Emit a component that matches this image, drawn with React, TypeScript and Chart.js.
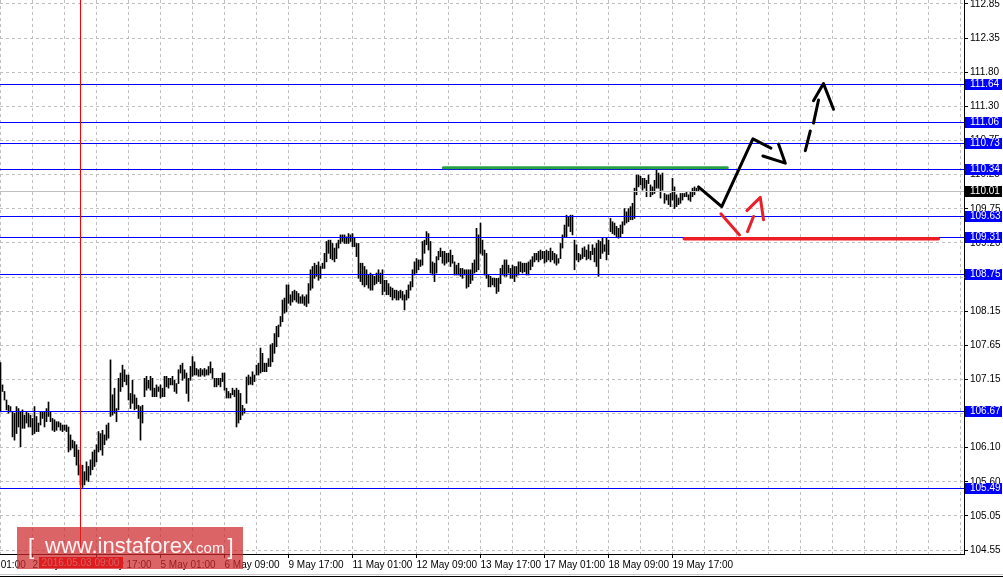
import React, { useEffect, useRef } from 'react';
import { Chart, registerables } from 'chart.js';

Chart.register(...registerables);

// ---------- DATA ----------
const barHighs: number[] = [
  107.40,107.06,106.96,106.83,106.75,106.73,106.65,106.63,106.73,106.70,
  106.65,106.68,106.60,106.65,106.63,106.60,106.55,106.73,106.58,106.48,
  106.65,106.65,106.65,106.70,106.80,106.65,106.55,106.53,106.50,106.50,
  106.48,106.45,106.45,106.45,106.42,106.30,106.22,106.20,106.15,106.07,
  105.84,105.84,105.74,105.89,105.82,105.92,106.04,106.07,106.15,106.35,
  106.32,106.37,106.30,106.45,106.48,107.44,106.91,107.01,106.70,107.16,
  107.24,107.36,107.29,107.21,107.21,106.93,107.13,106.91,106.86,106.75,
  106.73,106.75,107.16,107.19,107.13,107.19,107.16,107.01,107.06,107.03,
  107.06,107.01,107.19,107.19,107.16,107.16,107.19,107.13,107.08,107.29,
  107.36,107.39,107.29,107.24,107.16,107.34,107.49,107.41,107.31,107.29,
  107.31,107.29,107.31,107.29,107.34,107.41,107.31,107.16,107.16,107.16,
  107.16,107.24,107.24,107.01,106.96,106.93,107.01,106.98,107.01,106.98,
  106.93,106.75,106.70,107.18,107.21,107.18,107.26,107.21,107.36,107.39,
  107.62,107.54,107.39,107.39,107.46,107.67,107.69,107.84,107.95,107.97,
  108.10,108.35,108.38,108.58,108.58,108.43,108.48,108.50,108.48,108.45,
  108.40,108.43,108.40,108.43,108.60,108.81,108.86,108.91,108.88,108.93,
  108.86,108.91,109.06,109.24,109.26,109.26,109.21,109.14,109.21,109.26,
  109.34,109.34,109.34,109.31,109.36,109.34,109.36,109.29,109.21,109.21,
  108.91,108.91,108.86,108.81,108.73,108.76,108.73,108.71,108.76,108.81,
  108.76,108.81,108.65,108.65,108.60,108.55,108.53,108.50,108.50,108.48,
  108.50,108.48,108.43,108.50,108.58,108.63,108.81,108.93,108.98,108.96,
  108.96,109.24,109.26,109.39,109.36,109.24,108.93,108.91,109.01,109.09,
  109.14,109.09,109.09,109.06,109.06,109.11,109.03,108.93,108.88,108.91,
  108.83,108.83,108.81,108.81,108.81,108.81,108.91,108.96,109.44,109.34,
  109.52,109.26,109.11,109.06,108.73,108.71,108.68,108.68,108.68,108.68,
  108.83,108.88,108.96,108.96,108.88,108.83,108.88,108.86,108.86,108.93,
  108.93,108.91,108.91,108.91,108.93,108.96,109.01,109.06,109.06,109.09,
  109.11,109.09,109.09,109.11,109.09,109.14,109.09,109.06,109.04,108.98,
  109.21,109.34,109.49,109.64,109.62,109.64,109.64,109.26,109.19,109.06,
  109.04,109.14,109.16,109.11,109.19,109.09,109.19,109.14,109.21,109.26,
  109.24,109.29,109.19,109.29,109.26,109.59,109.54,109.52,109.47,109.44,
  109.49,109.54,109.74,109.69,109.74,109.77,109.82,110.05,110.25,110.25,
  110.23,110.20,110.20,110.17,110.25,110.10,110.07,110.17,110.33,110.28,
  110.25,110.28,109.97,109.95,109.95,109.97,110.20,110.07,109.95,109.90,
  109.97,109.97,109.97,110.00,109.95,110.00,110.05,110.07,110.05,110.05,
];

const barLows: number[] = [
  106.65,106.96,106.83,106.68,106.63,106.65,106.27,106.22,106.32,106.42,
  106.12,106.40,106.40,106.48,106.42,106.42,106.30,106.32,106.35,106.35,
  106.45,106.55,106.42,106.50,106.58,106.50,106.37,106.35,106.37,106.42,
  106.37,106.35,106.37,106.35,106.04,106.07,106.10,105.97,105.84,105.69,
  105.54,105.50,105.54,105.61,105.59,105.69,105.77,105.82,105.89,106.04,
  106.07,105.99,106.15,106.22,106.25,106.58,106.60,106.63,106.50,106.68,
  106.96,107.03,107.11,107.06,106.83,106.70,106.78,106.68,106.70,106.55,
  106.22,106.48,106.88,106.98,107.01,106.98,106.88,106.88,106.88,106.96,
  106.86,106.88,106.88,107.03,107.01,107.06,107.06,106.96,106.93,107.08,
  107.24,107.13,107.16,106.93,106.81,107.13,107.19,107.21,107.21,107.19,
  107.19,107.21,107.19,107.21,107.21,107.24,107.16,107.03,107.03,107.06,
  107.03,107.11,106.98,106.86,106.86,106.86,106.91,106.88,106.42,106.48,
  106.53,106.60,106.63,106.78,107.06,107.07,107.06,107.11,107.21,107.21,
  107.24,107.26,107.26,107.26,107.34,107.34,107.41,107.54,107.64,107.79,
  107.95,108.02,108.15,108.17,108.30,108.27,108.32,108.35,108.32,108.30,
  108.30,108.30,108.27,108.25,108.30,108.50,108.53,108.68,108.71,108.65,
  108.68,108.83,108.83,108.93,109.06,108.98,108.96,108.93,108.98,109.14,
  109.21,109.24,109.21,109.21,109.21,109.24,109.16,109.16,109.01,108.68,
  108.63,108.58,108.55,108.58,108.53,108.50,108.50,108.58,108.60,108.63,
  108.60,108.43,108.48,108.43,108.43,108.40,108.35,108.38,108.35,108.35,
  108.38,108.35,108.20,108.35,108.38,108.50,108.55,108.73,108.76,108.81,
  108.86,108.88,109.06,109.19,109.11,108.76,108.73,108.63,108.76,108.96,
  109.01,108.91,108.88,108.91,108.93,108.86,108.91,108.73,108.73,108.73,
  108.71,108.68,108.73,108.53,108.55,108.60,108.65,108.76,108.78,108.81,
  109.06,109.03,108.73,108.68,108.55,108.55,108.58,108.55,108.45,108.48,
  108.60,108.73,108.71,108.71,108.76,108.68,108.68,108.63,108.71,108.73,
  108.78,108.76,108.78,108.73,108.73,108.81,108.86,108.93,108.96,108.93,
  108.96,108.98,108.91,108.93,108.96,108.93,108.96,108.91,108.88,108.91,
  108.98,109.14,109.31,109.31,109.47,109.39,109.34,108.81,108.96,108.93,
  108.96,108.98,109.01,108.96,108.98,108.96,109.04,108.93,108.86,108.71,
  108.98,109.06,109.09,108.96,109.04,109.39,109.36,109.34,109.31,109.29,
  109.31,109.36,109.49,109.52,109.54,109.57,109.57,109.59,109.95,110.07,
  110.10,110.02,110.05,109.92,110.12,109.92,109.95,109.97,110.05,110.05,
  109.90,110.02,109.82,109.87,109.80,109.77,109.87,109.74,109.77,109.80,
  109.82,109.87,109.92,109.92,109.87,109.85,109.92,109.95,110.00,110.00,
];

// price axis tick labels (evenly spaced grid from top to bottom)
const yTickLabels: string[] = [
  '112.85','112.35','111.80','111.30','110.75','110.25','109.75','109.20','108.70',
  '108.15','107.65','107.15','106.60','106.10','105.60','105.05','104.55',
];
const yTop = 112.85;
const yBottom = 104.55;

// time axis labels (bar index -> label)
const xLabelBars: number[] = [-16, 16, 48, 80, 112, 144, 176, 208, 240, 272, 304, 336];
const xLabels: string[] = [
  '29 Apr 01:00','2 May 09:00','3 May 17:00','5 May 01:00','6 May 09:00','9 May 17:00',
  '11 May 01:00','12 May 09:00','13 May 17:00','17 May 01:00','18 May 09:00','19 May 17:00',
];
const xGridStep = 16;
const totalSlots = 482;

// horizontal levels
const levelValues: number[] = [111.64, 111.06, 110.73, 110.34, 109.63, 109.31, 108.75, 106.67, 105.49];
const levelLabels: string[] = ['111.64','111.06','110.73','110.34','109.63','109.31','108.75','106.67','105.49'];
const bidValue = 110.01;
const bidLabel = '110.01';

// vertical marker
const markerBar = 40;
const markerLabel = '2016.05.03 09:00';

// drawn objects
const greenLine = [{ x: 221.4, y: 110.36 }, { x: 363.4, y: 110.36 }];
const redLine = [{ x: 341.9, y: 109.28 }, { x: 468.9, y: 109.28 }];
const blackPath = [{ x: 349.0, y: 110.07 }, { x: 360.6, y: 109.77 }, { x: 376.2, y: 110.80 }, { x: 385.2, y: 110.66 }];
const blackHead = [{ x: 381.2, y: 110.54 }, { x: 392.4, y: 110.43 }, { x: 389.0, y: 110.72 }];
const dashSeg1 = [{ x: 402.4, y: 110.62 }, { x: 404.9, y: 110.92 }];
const dashSeg2 = [{ x: 406.5, y: 111.04 }, { x: 409.0, y: 111.39 }];
const dashHead = [{ x: 406.5, y: 111.38 }, { x: 411.5, y: 111.64 }, { x: 416.5, y: 111.25 }];
const redSeg1 = [{ x: 360.2, y: 109.66 }, { x: 369.5, y: 109.34 }];
const redSeg2 = [{ x: 373.5, y: 109.39 }, { x: 376.5, y: 109.62 }];
const redHead = [{ x: 373.2, y: 109.71 }, { x: 379.9, y: 109.91 }, { x: 381.5, y: 109.57 }];

// ---------- LAYOUT ----------
const W = 1003;
const H = 578;
const AXIS_W = 39;
const AXIS_H = 24;
const PLOT_H = H - AXIS_H;
const FONT = 'Liberation Sans';
const FS = 10;

// y range chosen so the 17 grid rows sit at 4px..550px of a 554px plot
const pxPerUnit = (550 - 4) / (yTop - yBottom);
const yMax = yTop + 4 / pxPerUnit;
const yMin = yBottom - (PLOT_H - 550) / pxPerUnit;
const yTickValues = yTickLabels.map((_, i) => yTop - (i * (yTop - yBottom)) / (yTickLabels.length - 1));

const xGridValues: number[] = [];
for (let v = 0; v <= totalSlots - 2; v += xGridStep) xGridValues.push(v);
const xTickValues = Array.from(new Set([...xLabelBars, ...xGridValues])).sort((a, b) => a - b);

const BAR_COLOR = '#000000';
const LEVEL_COLOR = '#0000ff';
const GRID_COLOR = '#c0c0c0';

function lineDs(data: { x: number; y: number }[], color: string, width: number) {
  return {
    type: 'line' as const,
    data,
    borderColor: color,
    backgroundColor: color,
    borderWidth: width,
    pointRadius: 0,
    borderCapStyle: 'round' as const,
    borderJoinStyle: 'round' as const,
    tension: 0,
    fill: false,
  };
}

const overlayPlugin = {
  id: 'overlay',
  afterDatasetDraw(chart: any, args: any) {
    if (args.index !== chart.data.datasets.length - 1) return;
    const { ctx, chartArea, scales } = chart;
    const xs = scales.x;
    const ys = scales.y;
    ctx.save();
    ctx.beginPath();
    ctx.rect(chartArea.left, chartArea.top, chartArea.right - chartArea.left, chartArea.bottom - chartArea.top);
    ctx.clip();
    ctx.setLineDash([]);
    ctx.lineWidth = 1;
    // bid line
    const py = Math.round(ys.getPixelForValue(bidValue)) + 0.5;
    ctx.strokeStyle = '#c0c0c0';
    ctx.beginPath(); ctx.moveTo(chartArea.left, py); ctx.lineTo(chartArea.right, py); ctx.stroke();
    // levels
    ctx.strokeStyle = LEVEL_COLOR;
    levelValues.forEach((v) => {
      const p = Math.round(ys.getPixelForValue(v)) + 0.5;
      ctx.beginPath(); ctx.moveTo(chartArea.left, p); ctx.lineTo(chartArea.right, p); ctx.stroke();
    });
    // vertical marker
    const mx = Math.floor(xs.getPixelForValue(markerBar)) + 0.5;
    ctx.strokeStyle = '#ff0000';
    ctx.beginPath(); ctx.moveTo(mx, chartArea.top); ctx.lineTo(mx, chartArea.bottom); ctx.stroke();
    ctx.restore();
  },
  afterDraw(chart: any) {
    const { ctx, chartArea, scales } = chart;
    const xs = scales.x;
    const ys = scales.y;
    ctx.save();
    ctx.font = `${FS}px "${FONT}"`;
    ctx.textBaseline = 'middle';
    ctx.textAlign = 'left';
    const boxL = chartArea.right + 1;
    const drawBox = (v: number, label: string, bg: string) => {
      const p = Math.round(ys.getPixelForValue(v)) + 0.5;
      ctx.fillStyle = bg;
      ctx.fillRect(boxL, Math.round(p - 5.5), W - 1 - boxL, 11);
      ctx.fillStyle = '#ffffff';
      ctx.fillText(label, chartArea.right + 6, p);
    };
    levelValues.forEach((v, i) => drawBox(v, levelLabels[i], LEVEL_COLOR));
    drawBox(bidValue, bidLabel, '#000000');

    // marker date box on the time axis
    const mx = xs.getPixelForValue(markerBar);
    const tw = ctx.measureText(markerLabel).width;
    const bw = tw + 6;
    ctx.fillStyle = '#ff0000';
    ctx.fillRect(Math.round(mx - bw / 2), chartArea.bottom + 3, Math.round(bw), 11);
    ctx.fillStyle = '#ffe0e0';
    ctx.textAlign = 'center';
    ctx.fillText(markerLabel, mx, chartArea.bottom + 9);

    // window frame lines
    ctx.fillStyle = '#c8c8c8';
    ctx.fillRect(0, 574, W, 1);
    ctx.fillStyle = '#000000';
    ctx.fillRect(0, 576, W, 1);

    // watermark
    ctx.fillStyle = 'rgba(205, 40, 45, 0.72)';
    ctx.fillRect(17, 527, 226, 42);
    ctx.fillStyle = 'rgba(255,255,255,0.92)';
    ctx.textAlign = 'left';
    ctx.textBaseline = 'alphabetic';
    ctx.font = `300 22px "${FONT}"`;
    ctx.fillText('[', 28, 554);
    ctx.fillText('www.instaforex', 45, 553);
    const w1 = ctx.measureText('www.instaforex').width;
    ctx.font = `15px "${FONT}"`;
    ctx.fillText('.com', 45 + w1 - 1, 553);
    const w2 = ctx.measureText('.com').width;
    ctx.font = `22px "${FONT}"`;
    ctx.fillText(']', 45 + w1 + w2 + 2, 554);
    ctx.restore();
  },
};

export default function App() {
  const ref = useRef<HTMLCanvasElement | null>(null);
  useEffect(() => {
    if (!ref.current) return;
    const bars = barHighs.map((h, i) => ({ x: i, y: [barLows[i], h] }));
    const chart = new Chart(ref.current, {
      type: 'bar',
      data: {
        datasets: [
          lineDs(greenLine, '#2aa045', 3),
          lineDs(redLine, '#ee1c25', 3.5),
          lineDs(blackPath, '#000000', 3),
          lineDs(blackHead, '#000000', 3),
          lineDs(dashSeg1, '#000000', 3),
          lineDs(dashSeg2, '#000000', 3),
          lineDs(dashHead, '#000000', 3),
          lineDs(redSeg1, '#e8202a', 3),
          lineDs(redSeg2, '#e8202a', 3),
          lineDs(redHead, '#e8202a', 3),
          {
            type: 'bar' as const,
            data: bars as any,
            backgroundColor: BAR_COLOR,
            borderWidth: 0,
            barThickness: 1,
            grouped: false,
          },
        ] as any,
      },
      options: {
        animation: false,
        responsive: false,
        maintainAspectRatio: false,
        events: [],
        layout: { padding: 0 },
        plugins: { legend: { display: false }, tooltip: { enabled: false } },
        scales: {
          x: {
            type: 'linear',
            position: 'bottom',
            offset: false,
            min: -0.25,
            max: totalSlots - 0.25,
            afterBuildTicks: (s: any) => {
              s.ticks = xTickValues.map((v) => ({ value: v }));
            },
            afterFit: (s: any) => {
              s.height = AXIS_H;
              s.paddingLeft = 0;
              s.paddingRight = 0;
            },
            ticks: {
              autoSkip: false,
              maxRotation: 0,
              minRotation: 0,
              align: 'start',
              padding: 1,
              color: '#000000',
              font: { family: FONT, size: FS },
              callback: (v: any) => {
                const k = xLabelBars.indexOf(Number(v));
                return k >= 0 ? xLabels[k] : '';
              },
            },
            grid: {
              offset: false,
              color: (c: any) => (c.tick && xGridValues.includes(c.tick.value) ? GRID_COLOR : 'rgba(0,0,0,0)'),
              lineWidth: 1,
              tickLength: 4,
              tickColor: (c: any) => (c.tick && xLabelBars.includes(c.tick.value) ? '#000000' : 'rgba(0,0,0,0)'),
            },
            border: { display: true, color: '#000000', width: 1, dash: [3, 3] },
          },
          y: {
            type: 'linear',
            position: 'right',
            offset: false,
            min: yMin,
            max: yMax,
            afterBuildTicks: (s: any) => {
              s.ticks = yTickValues.map((v) => ({ value: v }));
            },
            afterFit: (s: any) => {
              s.width = AXIS_W;
              s.paddingTop = 0;
              s.paddingBottom = 0;
            },
            ticks: {
              padding: 2,
              color: '#000000',
              font: { family: FONT, size: FS },
              callback: (_v: any, i: number) => yTickLabels[i] ?? '',
            },
            grid: { color: GRID_COLOR, lineWidth: 1, tickLength: 4, tickColor: '#000000' },
            border: { display: true, color: '#000000', width: 1, dash: [3, 3] },
          },
        },
      } as any,
      plugins: [overlayPlugin],
    });
    return () => chart.destroy();
  }, []);
  return (
    <div style={{ position: 'absolute', left: 0, top: 0, width: W, height: H, background: '#ffffff' }}>
      <canvas ref={ref} width={W} height={H} style={{ display: 'block', width: W, height: H }} />
    </div>
  );
}
